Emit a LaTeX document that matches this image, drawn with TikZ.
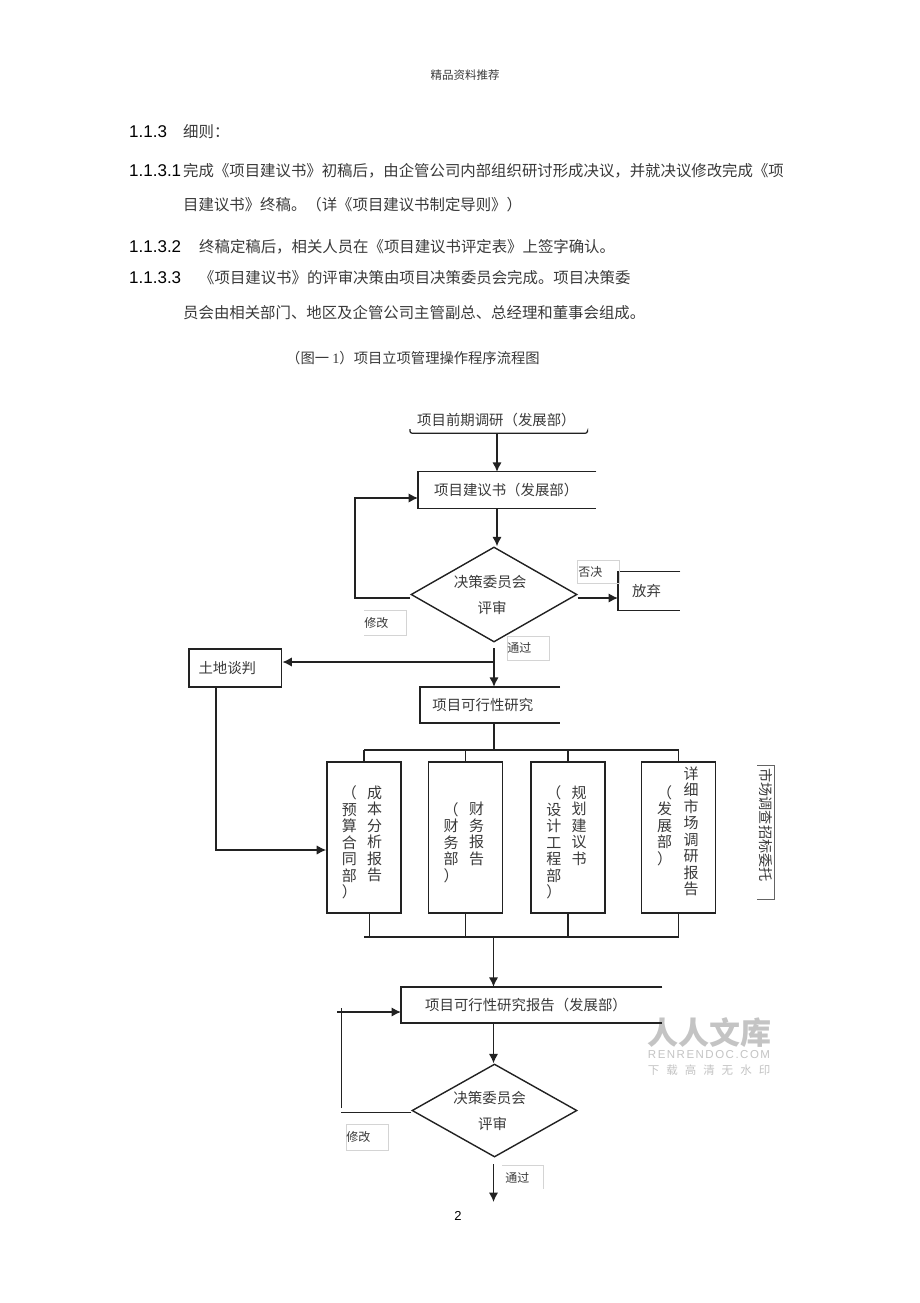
\documentclass[tikz,border=0pt]{standalone}
\usepackage{fontspec}
\usetikzlibrary{arrows.meta,shapes.geometric}
\setmainfont{Noto Sans CJK SC}
\newfontfamily\arialfont{Liberation Sans}
\newfontfamily\wmfont[LetterSpace=13]{Liberation Sans}
\newfontfamily\timesfont{Liberation Serif}
\definecolor{ink}{HTML}{222222}
\definecolor{txt}{HTML}{3A3A3A}
\definecolor{faint}{HTML}{D4D4D4}
\definecolor{wm}{HTML}{C4C4C4}
\tikzset{
  para/.style={anchor=west,inner sep=0pt,text=txt,font=\fontsize{15.4}{15.4}\selectfont},
  num/.style={anchor=west,inner sep=0pt,text=black,font=\arialfont\fontsize{17}{17}\selectfont},
  conn/.style={draw=ink,line width=1.6pt},
  arr/.style={conn,-{Latex[length=9.5pt,width=9.5pt]}},
  openbox/.style={anchor=west,inner sep=0pt,align=left,text=txt,font=\fontsize{14.4}{14.4}\selectfont},
  vbox/.style={draw=ink,line width=1.6pt,inner sep=0pt,minimum width=74pt,minimum height=151pt},
  vtext/.style={inner sep=0pt,align=center,text=txt,font=\fontsize{15}{16.5}\selectfont},
  decide/.style={diamond,draw=ink,line width=1.4pt,inner sep=0pt,aspect=1.75,align=center,text=txt,font=\fontsize{14.5}{26}\selectfont},
  tag/.style={draw=faint,line width=.7pt,inner sep=0pt,text=txt,font=\fontsize{12}{12}\selectfont,align=left},
}
\begin{document}
\begin{tikzpicture}[x=1pt,y=-1pt]
\useasboundingbox (0,0) rectangle (920,1303);
\fill[white] (0,0) rectangle (920,1303);

% page text
\node[anchor=center,inner sep=0pt,text=txt,font=\fontsize{11.5}{11.5}\selectfont] (hdr) at (465,75) {精品资料推荐};
\node[num] (n0) at (129,132) {1.1.3};
\node[para] (p0) at (183,132) {细则：};
\node[num] (n1) at (129,171) {1.1.3.1};
\node[para] (p1) at (183,171) {完成《项目建议书》初稿后，由企管公司内部组织研讨形成决议，并就决议修改完成《项};
\node[para] (p1b) at (183,205) {目建议书》终稿。（详《项目建议书制定导则》）};
\node[num] (n2) at (129,247) {1.1.3.2};
\node[para] (p2) at (199,247) {终稿定稿后，相关人员在《项目建议书评定表》上签字确认。};
\node[num] (n3) at (129,278) {1.1.3.3};
\node[para] (p3) at (199,278) {《项目建议书》的评审决策由项目决策委员会完成。项目决策委};
\node[para] (p3b) at (183,313) {员会由相关部门、地区及企管公司主管副总、总经理和董事会组成。};
\node[anchor=west,inner sep=0pt,text=txt,font=\fontsize{14.3}{14.3}\selectfont] (cap) at (286,358) {（图一 {\timesfont 1}）项目立项管理操作程序流程图};
\node[inner sep=0pt,text=black,font=\arialfont\fontsize{13}{13}\selectfont] (pg) at (458,1216) {2};

% watermark
\node[inner sep=0pt,text=wm,font=\bfseries\fontsize{31}{31}\selectfont] (wm1) at (709,1033) {人人文库};
\node[inner sep=0pt,text=wm,font=\wmfont\fontsize{11.5}{11.5}\selectfont] (wm2) at (709,1055) {RENRENDOC.COM};
\node[inner sep=0pt,text=wm,font=\fontsize{11.5}{11.5}\selectfont] (wm3) at (709,1070) {下\hspace{7pt}载\hspace{7pt}高\hspace{7pt}清\hspace{7pt}无\hspace{7pt}水\hspace{7pt}印};

% named spines
\coordinate (sa) at (497,0);
\coordinate (sb) at (494,0);
\coordinate (sc) at (493.5,0);

% nodes
\node[openbox,text width=177pt,minimum height=25pt] (res) at (410,420.5) {\hspace*{7pt}项目前期调研（发展部）};
\draw[ink,line width=1.2pt,rounded corners=2pt] ([yshift=4pt]res.south west) -- (res.south west) -- (res.south east) -- ([yshift=1pt]res.south east);

\node[openbox,text width=178pt,minimum height=36pt] (prop) at (418,490) {\hspace*{16pt}项目建议书（发展部）};
\draw[conn,line width=1.2pt] (prop.north east) -- (prop.north west) -- (prop.south west) -- (prop.south east);

\node[decide,minimum width=166pt,minimum height=95pt] (d1) at (494,594.5) {决策委员会\hspace*{8pt}\\评审\hspace*{4pt}};

\node[openbox,text width=62pt,minimum height=38pt] (drop) at (618,591) {\hspace*{14pt}放弃};
\draw[conn,line width=1.2pt] (drop.north east) -- (drop.north west) -- (drop.south west) -- (drop.south east);

\node[tag,minimum width=42pt,minimum height=23pt,text width=42pt,anchor=north west] (no1) at (577,560) {\hspace*{1pt}否决\\[8pt]};
\node[tag,draw=none,minimum width=42pt,minimum height=24pt,text width=42pt,anchor=west] (mod1) at (364,623) {修改};
\draw[faint,line width=.8pt] (mod1.north west) -- (mod1.north east) -- (mod1.south east) -- (mod1.south west);
\node[tag,minimum width=42pt,minimum height=24pt,text width=42pt,anchor=west] (ok1) at (507,648) {通过};

\node[draw=ink,line width=1.6pt,inner sep=0pt,minimum width=92.6pt,minimum height=38pt,text=txt,font=\fontsize{14.4}{14.4}\selectfont] (land) at (235.3,668) {土地谈判\hspace*{16pt}};

\node[openbox,text width=140pt,minimum height=36pt] (feas) at (419.7,705) {\hspace*{12.5pt}项目可行性研究};
\draw[conn] (feas.north east) -- (feas.north west) -- (feas.south west) -- (feas.south east);

\node[vbox] (b1) at (364,837.5) {};
\node[vbox] (b2) at (465.6,837.5) {};
\node[vbox] (b3) at (567.8,837.5) {};
\node[vbox] (b4) at (678.6,837.5) {};
\node[vtext] (b1r) at (374.6,834) {成\\本\\分\\析\\报\\告};
\node[vtext] (b1l) at (349.3,842.5) {（\\预\\算\\合\\同\\部\\）};
\node[vtext] (b2r) at (476.7,834) {财\\务\\报\\告};
\node[vtext] (b2l) at (451,842.5) {（\\财\\务\\部\\）};
\node[vtext] (b3r) at (579,825.5) {规\\划\\建\\议\\书};
\node[vtext] (b3l) at (553.9,842.5) {（\\设\\计\\工\\程\\部\\）};
\node[vtext] (b4r) at (691,831.5) {详\\细\\市\\场\\调\\研\\报\\告};
\node[vtext] (b4l) at (664.7,825.5) {（\\发\\展\\部\\）};

\node[inner sep=0pt,rotate=-90,text=txt,font=\fontsize{14.2}{14.2}\selectfont] (side) at (766,825) {市场调查招标委托};
\coordinate (sideTL) at (757,765);
\coordinate (sideTR) at (774,765);
\coordinate (sideBL) at (757,899);
\coordinate (sideBR) at (774,899);
\draw[draw=ink!70,line width=.8pt] (sideTL) -- (sideTR) -- (sideBR) -- (sideBL);

\node[openbox,text width=261pt,minimum height=36pt] (rep) at (401,1005) {\hspace*{24pt}\raisebox{-2pt}{项目可行性研究报告（发展部）}};
\draw[conn] (rep.north east) -- (rep.north west) -- (rep.south west) -- (rep.south east);

\node[decide,minimum width=165pt,minimum height=93pt] (d2) at (494.5,1110.5) {决策委员会\hspace*{10pt}\\评审\hspace*{4pt}};
\node[tag,minimum width=42pt,minimum height=26pt,text width=42pt,anchor=west] (mod2) at (346,1137) {修改};
\node[tag,draw=none,minimum width=41pt,minimum height=23pt,text width=41pt,anchor=west] (ok2) at (502,1177.5) {\hspace*{3pt}通过};
\draw[faint,line width=.6pt] (ok2.north west) -- (ok2.north east) -- (ok2.south east);

% connectors
\draw[arr] (sa |- res.south) -- (sa |- prop.north);
\draw[arr] (sa |- prop.south) -- (sa |- d1.north);
\coordinate (fbl) at (355,598);
\coordinate (fbt) at (355,498);
\draw[arr,line width=1.4pt] (fbl -| d1.west) -- (fbl) -- (fbt) -- (fbt -| prop.west);
\draw[arr] (fbl -| d1.east) -- (fbl -| drop.west);
\coordinate (ob) at (494,648);
\coordinate (lb) at (494,662);
\draw[arr] (ob) -- (sb |- feas.north);
\draw[arr] (lb) -- (lb -| land.east);
\coordinate (lv) at (216,850);
\draw[arr] (lv |- land.south) -- (lv) -- (lv -| b1.west);
\coordinate (tb) at (0,750);
\coordinate (bb) at (0,937);
\draw[conn] (sb |- feas.south) -- (sb |- tb);
\draw[conn] (b1.north |- tb) -- (b4.north |- tb);
\foreach \b in {b1,b2,b3,b4} \draw[conn] (\b.north) -- (\b.north |- tb);
\draw[conn] (b1.south |- bb) -- (b4.south |- bb);
\foreach \b in {b2,b3,b4} \draw[conn] (\b.south) -- (\b.south |- bb);
\draw[conn,line width=1pt] ([xshift=5pt]b1.south) -- ([xshift=5pt]b1.south |- bb);
\draw[arr] (sc |- bb) -- (sc |- rep.north);
\draw[arr] (sc |- rep.south) -- (sc |- d2.north);
\coordinate (fa) at (341,1112);
\coordinate (fv) at (341,1108);
\coordinate (fu) at (341,1008);
\coordinate (fh) at (337,1012);
\draw[draw=ink,line width=1pt] (d2.west |- fa) -- (fa);
\draw[draw=ink,line width=1pt] (fv) -- (fu);
\draw[arr] (fh) -- (fh -| rep.west);
\coordinate (oe) at (493.5,1164);
\coordinate (of) at (493.5,1202);
\draw[arr] (oe) -- (of);
\end{tikzpicture}
\end{document}
